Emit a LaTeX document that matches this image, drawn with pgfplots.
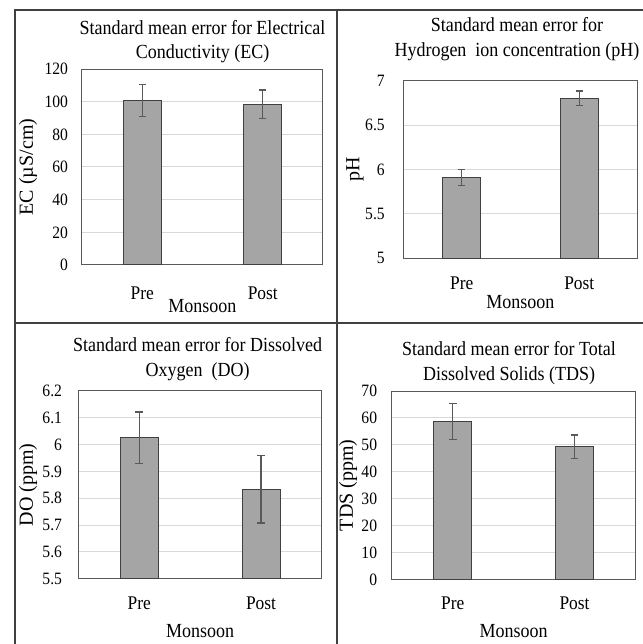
\documentclass[border=0pt]{standalone}
\usepackage{pgfplots}
\pgfplotsset{compat=1.18}
\usepackage{fontspec}
\setmainfont{Liberation Serif}[FakeStretch=0.9]
\newfontfamily\ylabfont{Liberation Serif}
\definecolor{barfill}{HTML}{A5A5A5}
\definecolor{bardraw}{HTML}{404040}
\definecolor{errgray}{HTML}{595959}
\definecolor{gridgray}{HTML}{D9D9D9}
\definecolor{axisgray}{HTML}{595959}
\definecolor{framegray}{HTML}{404040}
\tikzset{ttl/.style={font=\fontsize{15}{18}\selectfont, anchor=base}}
\pgfplotsset{panel/.style={
  scale only axis, ybar, bar width=28.5pt, bar shift=0pt,
  xmin=-0.5, xmax=1.5, xtick={0,1}, xticklabels={Pre,Post},
  ymajorgrids, major grid style={draw=gridgray, line width=0.75pt},
  axis line style={draw=axisgray, line width=0.75pt},
  major tick length=0pt, tick style={draw=none},
  /pgf/number format/assume math mode=true,
  /pgf/number format/fixed,
  yticklabel style={font=\fontsize{13}{15}\selectfont, inner sep=0pt, anchor=east},
  xticklabel style={font=\fontsize{14.5}{17}\selectfont, anchor=base},
  ylabel style={font=\ylabfont\fontsize{15}{18}\selectfont, anchor=center},
  xlabel style={font=\fontsize{15}{18}\selectfont, anchor=base},
  xlabel={Monsoon},
  clip mode=individual,
},
barplot/.style={fill=barfill, draw=bardraw, line width=0.75pt,
    error bars/y dir=both, error bars/y explicit,
    error bars/error bar style={color=errgray, line width=1pt},
    error bars/error mark options={rotate=90, mark size=2.8pt, color=errgray, line width=1pt}}}
\begin{document}
\begin{tikzpicture}
\path[use as bounding box] (0,0) rectangle (482.25pt,483pt);
% Panel 1: EC
\begin{axis}[panel, at={(61.5pt,284.25pt)}, anchor=south west,
  width=180.75pt, height=147pt, ymin=0, ymax=120, ytick={0,20,40,60,80,100,120},
  yticklabel style={xshift=-10.3pt},
  xticklabel style={yshift=-26.25pt},
  xlabel style={at={(axis description cs:0.5,0)}, yshift=-36pt},
  ylabel={EC (µS/cm)}, ylabel style={at={(axis description cs:-0.224,0.5)}}]
\addplot[barplot] coordinates {(0,100.8) +- (0,9.9) (1,98.3) +- (0,8.8)};
\node[ttl, yshift=26.25pt] at (rel axis cs:0.5,1) {Standard mean error for Electrical};
\node[ttl, yshift=7.5pt] at (rel axis cs:0.5,1) {Conductivity (EC)};
\end{axis}
% Panel 2: pH
\begin{axis}[panel, at={(302.25pt,289.3pt)}, anchor=south west,
  width=176.25pt, height=133.2pt, ymin=5, ymax=7, ytick={5,5.5,6,6.5,7},
  yticklabel style={xshift=-13.5pt},
  xticklabel style={yshift=-23.2pt},
  xlabel style={at={(axis description cs:0.5,0)}, yshift=-38pt},
  ylabel={pH}, ylabel style={at={(axis description cs:-0.204,0.5)}}]
\addplot[barplot] coordinates {(0,5.91) +- (0,0.09) (1,6.80) +- (0,0.083)};
\node[ttl, yshift=36.5pt] at (rel axis cs:0.485,1) {Standard mean error for};
\node[ttl, yshift=17.8pt] at (rel axis cs:0.485,1) {Hydrogen\ \ ion concentration (pH)};
\end{axis}
% Panel 3: DO
\begin{axis}[panel, at={(58.7pt,49pt)}, anchor=south west,
  width=182.8pt, height=140.8pt, ymin=5.5, ymax=6.2, ytick={5.5,5.6,5.7,5.8,5.9,6,6.1,6.2},
  yticklabel style={xshift=-12pt},
  xticklabel style={yshift=-23.5pt},
  xlabel style={at={(axis description cs:0.5,0)}, yshift=-44.5pt},
  ylabel={DO (ppm)}, ylabel style={at={(axis description cs:-0.206,0.5)}}]
\addplot[barplot] coordinates {(0,6.026) +- (0,0.096) (1,5.833) +- (0,0.126)};
\node[ttl, yshift=29.25pt] at (rel axis cs:0.49,1) {Standard mean error for Dissolved};
\node[ttl, yshift=10.5pt] at (rel axis cs:0.49,1) {Oxygen\ \ (DO)};
\end{axis}
% Panel 4: TDS
\begin{axis}[panel, at={(294pt,48.5pt)}, anchor=south west,
  width=182.5pt, height=141.2pt, ymin=0, ymax=70, ytick={0,10,20,30,40,50,60,70},
  yticklabel style={xshift=-11pt},
  xticklabel style={yshift=-22.3pt},
  xlabel style={at={(axis description cs:0.5,0)}, yshift=-44pt},
  ylabel={TDS (ppm)}, ylabel style={at={(axis description cs:-0.181,0.5)}}]
\addplot[barplot] coordinates {(0,58.7) +- (0,6.6) (1,49.3) +- (0,4.4)};
\node[ttl, yshift=27pt] at (rel axis cs:0.481,1) {Standard mean error for Total};
\node[ttl, yshift=8.25pt] at (rel axis cs:0.481,1) {Dissolved Solids (TDS)};
\end{axis}
% table frame
\draw[framegray, line width=1pt] (11.25pt,0) -- (11.25pt,475.5pt) -- (482.25pt,475.5pt);
\draw[framegray, line width=1pt] (252.75pt,0) -- (252.75pt,475.5pt);
\draw[framegray, line width=1pt] (11.25pt,240.75pt) -- (482.25pt,240.75pt);
\end{tikzpicture}
\end{document}
